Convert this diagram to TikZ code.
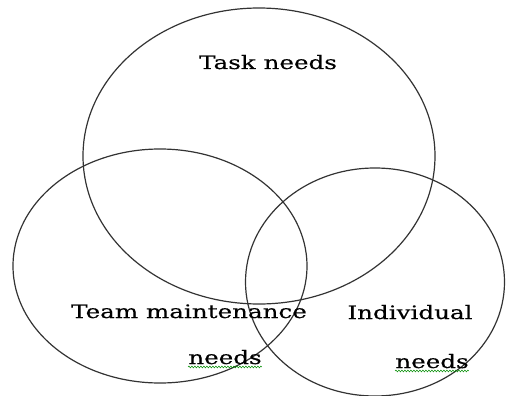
\documentclass[tikz,border=0pt]{standalone}
\usepackage{fontspec}
\setmainfont[FakeStretch=1.33,FakeBold=0.4]{DejaVu Serif}
\usetikzlibrary{shapes.geometric,decorations.pathmorphing}
\begin{document}
\begin{tikzpicture}[x=1pt,y=-1pt,
  ring/.style={ellipse,draw,line width=1.2pt,black!80,inner sep=0pt},
  lbl/.style={font=\fontsize{18.5}{22}\selectfont,inner sep=0pt,anchor=base},
  squig/.style={draw=green!55!black,line width=0.5pt,decorate,decoration={zigzag,amplitude=0.9pt,segment length=3pt}}]
\useasboundingbox (0,0) rectangle (506,396);
% the three needs
\node[ring,minimum width=352pt,minimum height=296pt] (task) at (259,156) {};
\node[ring,minimum width=294pt,minimum height=234pt] (team) at (160,266) {};
\node[ring,minimum width=259pt,minimum height=228pt] (indiv) at (375,282) {};
% labels
\node[lbl] (taskL) at (268,69) {Task needs};
\node[lbl] (teamL) at (189,318) {Team maintenance};
\node[lbl] (teamN) at (225,364) {needs};
\node[lbl] (indivL) at (410,319) {Individual};
\node[lbl] (indivN) at (432,368) {needs};
% spell-check marks
\draw[squig] ([yshift=-2.5pt]teamN.south west) -- ([yshift=-2.5pt]teamN.south east);
\draw[squig] ([yshift=-2.5pt]indivN.south west) -- ([yshift=-2.5pt]indivN.south east);
\end{tikzpicture}
\end{document}
